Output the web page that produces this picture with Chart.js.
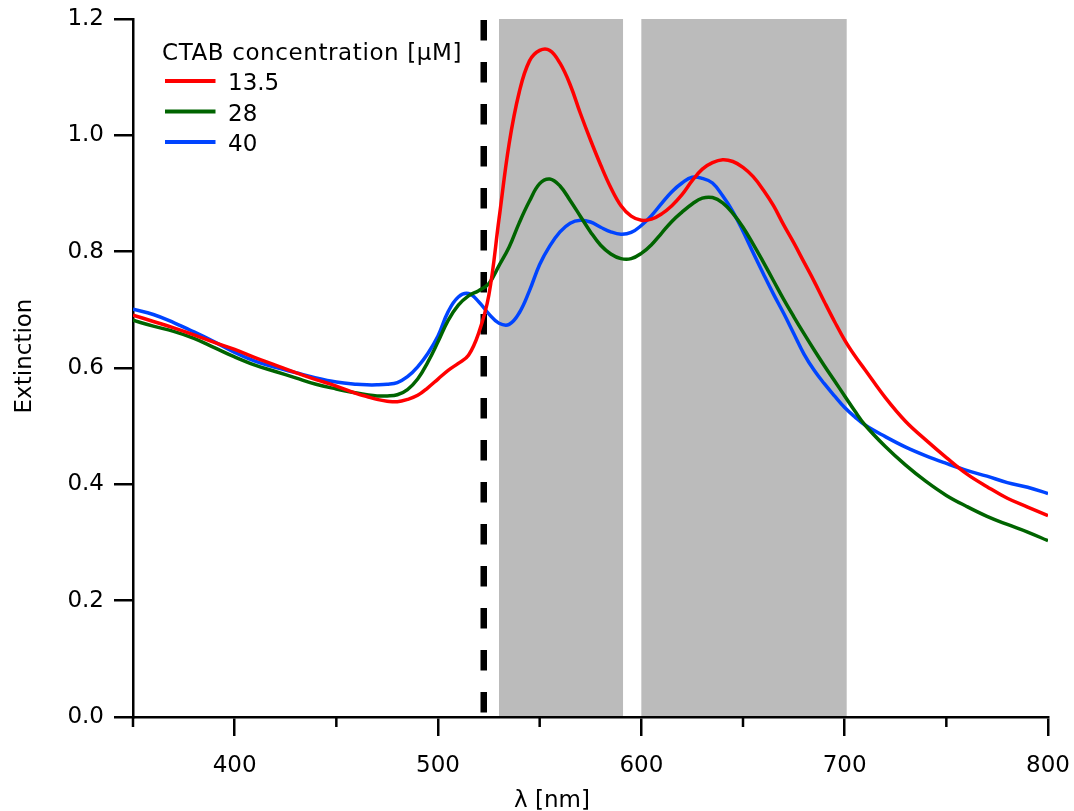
<!DOCTYPE html>
<html>
<head>
<meta charset="utf-8">
<script src="https://cdn.jsdelivr.net/npm/chart.js@4"></script>
<style>
html,body{margin:0;padding:0;background:#fff;}
#c{display:block;}
</style>
</head>
<body>
<canvas id="c" width="1074" height="811"></canvas>
<script>
// ---- data ----
const wavelengths = [350,360,370,380,390,400,410,420,430,440,450,460,465,470,475,480,485,490,495,500,505,510,515,520,525,530,535,540,545,550,555,560,565,570,575,580,585,590,595,600,605,610,615,620,625,630,635,640,645,650,655,660,665,670,675,680,685,690,695,700,705,710,720,730,740,750,760,770,780,790,800];
const ctab13_5 = [0.691,0.680,0.669,0.657,0.644,0.632,0.618,0.605,0.592,0.580,0.569,0.556,0.551,0.546,0.543,0.542,0.546,0.553,0.566,0.581,0.596,0.608,0.622,0.660,0.725,0.856,0.986,1.075,1.128,1.146,1.146,1.124,1.087,1.038,0.992,0.949,0.910,0.879,0.861,0.854,0.856,0.865,0.879,0.898,0.922,0.942,0.953,0.958,0.955,0.945,0.929,0.906,0.879,0.846,0.815,0.782,0.749,0.714,0.680,0.648,0.621,0.597,0.549,0.508,0.476,0.446,0.418,0.396,0.376,0.361,0.346];
const ctab28   = [0.682,0.672,0.663,0.651,0.635,0.619,0.605,0.594,0.583,0.572,0.564,0.557,0.554,0.552,0.552,0.554,0.563,0.581,0.610,0.645,0.682,0.708,0.724,0.733,0.745,0.776,0.808,0.850,0.887,0.917,0.925,0.913,0.888,0.861,0.834,0.811,0.796,0.788,0.788,0.797,0.812,0.832,0.852,0.868,0.882,0.892,0.893,0.884,0.866,0.842,0.813,0.782,0.750,0.718,0.688,0.659,0.631,0.604,0.578,0.552,0.526,0.502,0.465,0.433,0.405,0.381,0.362,0.345,0.331,0.318,0.303];
const ctab40   = [0.701,0.692,0.678,0.662,0.645,0.627,0.612,0.601,0.592,0.583,0.576,0.572,0.571,0.571,0.572,0.575,0.585,0.602,0.625,0.655,0.697,0.722,0.728,0.714,0.693,0.677,0.675,0.695,0.733,0.778,0.810,0.834,0.849,0.854,0.851,0.842,0.834,0.830,0.833,0.845,0.862,0.883,0.903,0.918,0.928,0.926,0.918,0.896,0.869,0.835,0.798,0.762,0.727,0.694,0.659,0.624,0.596,0.573,0.552,0.532,0.516,0.502,0.482,0.464,0.449,0.436,0.424,0.414,0.403,0.395,0.384];
const seriesLabels = ['13.5','28','40'];
const seriesColors = ['#ff0000','#006400','#0044ff'];
const legendTitle = 'CTAB concentration [\u03bcM]';
const xTicks = [400,500,600,700,800];
const xMinorTicks = [350,450,550,650,750];
const yTicks = [0,0.2,0.4,0.6,0.8,1.0,1.2];
const shadedBands = [[530,591],[600,701]];
const markerWavelength = 522.5;
const xTitle = '\u03bb [nm]';
const yTitle = 'Extinction';

const FONT = '23px "DejaVu Sans"';
const seriesValues = [ctab13_5, ctab28, ctab40];

const decor = {
  id: 'decor',
  beforeDatasetsDraw(chart) {
    const {ctx, chartArea: a, scales: {x, y}} = chart;
    ctx.save();
    ctx.fillStyle = '#bbbbbb';
    shadedBands.forEach(([s, e]) => {
      const x0 = x.getPixelForValue(s), x1 = x.getPixelForValue(e);
      ctx.fillRect(x0, a.top, x1 - x0, a.bottom - a.top - 1);
    });
    const xm = x.getPixelForValue(markerWavelength);
    ctx.strokeStyle = '#000';
    ctx.lineWidth = 6.5;
    ctx.setLineDash([20.5, 21.5]);
    ctx.beginPath();
    ctx.moveTo(xm, a.top + 1);
    ctx.lineTo(xm, a.bottom - 4);
    ctx.stroke();
    ctx.restore();
  },
  afterDraw(chart) {
    const {ctx, chartArea: a, scales: {x}} = chart;
    ctx.save();
    // minor ticks
    ctx.strokeStyle = '#000';
    ctx.lineWidth = 2.5;
    xMinorTicks.forEach(v => {
      const px = x.getPixelForValue(v);
      ctx.beginPath();
      ctx.moveTo(px, a.bottom);
      ctx.lineTo(px, a.bottom + 10);
      ctx.stroke();
    });
    // axis titles
    ctx.fillStyle = '#000';
    ctx.font = FONT;
    ctx.textAlign = 'center';
    ctx.textBaseline = 'alphabetic';
    ctx.fillText(xTitle, 552, 807);
    ctx.save();
    ctx.translate(31, 356);
    ctx.rotate(-Math.PI / 2);
    ctx.fillText(yTitle, 0, 0);
    ctx.restore();
    // legend
    ctx.textAlign = 'left';
    try { ctx.letterSpacing = '0.6px'; } catch (e) {}
    ctx.fillText(legendTitle, 162, 59.5);
    try { ctx.letterSpacing = '0px'; } catch (e) {}
    const baselines = [90, 120.5, 151];
    seriesLabels.forEach((lab, i) => {
      ctx.strokeStyle = seriesColors[i];
      ctx.lineWidth = 4;
      ctx.beginPath();
      ctx.moveTo(165, baselines[i] - 9);
      ctx.lineTo(215.5, baselines[i] - 9);
      ctx.stroke();
      ctx.fillText(lab, 228, baselines[i]);
    });
    ctx.restore();
  }
};

function zeroPad(s) { s.paddingTop = 0; s.paddingBottom = 0; s.paddingLeft = 0; s.paddingRight = 0; }

new Chart(document.getElementById('c'), {
  type: 'line',
  data: {
    datasets: seriesValues.map((vals, i) => ({
      label: seriesLabels[i],
      data: wavelengths.map((w, j) => ({x: w, y: vals[j]})),
      borderColor: seriesColors[i],
      borderWidth: 3.5,
      pointRadius: 0,
      fill: false,
      tension: 0.4
    }))
  },
  options: {
    responsive: false,
    animation: false,
    devicePixelRatio: 1,
    layout: {padding: {left: 0, right: 26, top: 19, bottom: 0}},
    plugins: {legend: {display: false}, tooltip: {enabled: false}},
    scales: {
      x: {
        type: 'linear', min: 350, max: 800,
        afterBuildTicks: s => { s.ticks = xTicks.map(v => ({value: v})); },
        afterFit: s => { s.height = 94; zeroPad(s); },
        border: {color: '#000', width: 2.5},
        grid: {drawOnChartArea: false, drawTicks: true, tickLength: 19, color: '#000', lineWidth: 2.5},
        ticks: {color: '#000', font: {family: 'DejaVu Sans', size: 23}, padding: 16, maxRotation: 0,
                callback: v => String(v)}
      },
      y: {
        type: 'linear', min: 0, max: 1.2,
        afterBuildTicks: s => { s.ticks = yTicks.map(v => ({value: v})); },
        afterFit: s => { s.width = 133; zeroPad(s); },
        border: {color: '#000', width: 2.5},
        grid: {drawOnChartArea: false, drawTicks: true, tickLength: 19, color: '#000', lineWidth: 2.5},
        ticks: {color: '#000', font: {family: 'DejaVu Sans', size: 23}, padding: 10,
                callback: v => Number(v).toFixed(1)}
      }
    }
  },
  plugins: [decor]
});
</script>
</body>
</html>
